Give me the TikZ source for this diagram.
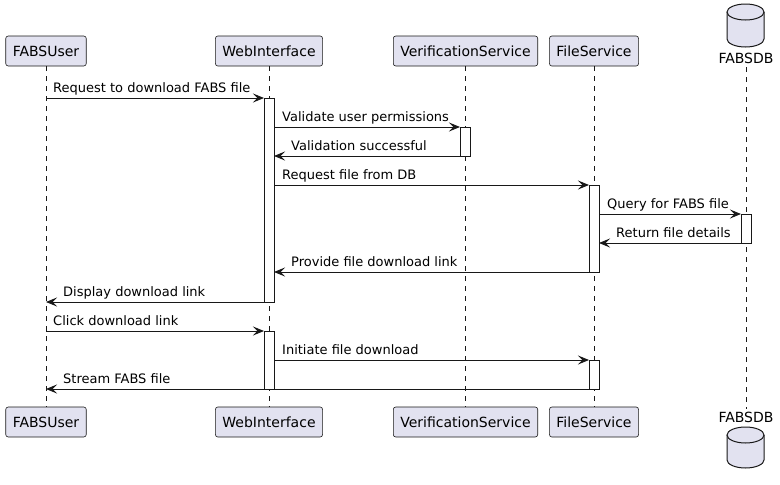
\documentclass[tikz,border=0pt]{standalone}
\usepackage{fontspec}
\setmainfont{DejaVu Sans}
\usetikzlibrary{arrows.meta}
\definecolor{pfill}{HTML}{E2E2F0}
\definecolor{pline}{HTML}{181818}
\begin{document}
\begin{tikzpicture}[x=1pt,y=-1pt,
  part/.style={draw=pline, fill=pfill, rounded corners=2.5pt, minimum height=30pt,
    inner xsep=7pt, inner ysep=0pt, line width=0.6pt, font=\fontsize{14}{16}\selectfont},
  dblabel/.style={anchor=base, inner sep=0pt, font=\fontsize{14}{16}\selectfont},
  life/.style={draw=pline, dash pattern=on 5pt off 5pt, line width=0.5pt},
  actbar/.style={draw=pline, fill=white, line width=1pt},
  msg/.style={draw=pline, line width=1pt, -{Stealth[length=11pt,width=9pt,inset=4.5pt]}},
  lbl/.style={anchor=base west, inner sep=0pt, font=\fontsize{13}{15}\selectfont},
  dbshape/.style={draw=pline, fill=pfill, line width=1pt},
]
\useasboundingbox (0,0) rectangle (780,485);

% participants top
\node[part] (u) at (46,51) {FABSUser};
\node[part] (w) at (269,51) {WebInterface};
\node[part] (v) at (465.5,51) {VerificationService};
\node[part] (f) at (594,51) {FileService};
\node[dblabel] (d) at (746,63) {FABSDB};
% participants bottom
\node[part] (u2) at (46,422) {FABSUser};
\node[part] (w2) at (269,422) {WebInterface};
\node[part] (v2) at (465.5,422) {VerificationService};
\node[part] (f2) at (594,422) {FileService};
\node[dblabel] (d2) at (746,422) {FABSDB};

% database cylinders
\fill[pfill] (727,12) -- (727,39) .. controls (727,43.4) and (735.3,47) .. (745.5,47)
  .. controls (755.7,47) and (764,43.4) .. (764,39) -- (764,12) -- cycle;
\draw[pline, line width=1pt] (727,12) -- (727,39) .. controls (727,43.4) and (735.3,47) .. (745.5,47)
  .. controls (755.7,47) and (764,43.4) .. (764,39) -- (764,12);
\draw[dbshape] (745.5,12) ellipse [x radius=18.5pt, y radius=8pt];

\fill[pfill] (727,435) -- (727,460) .. controls (727,464.4) and (735.3,468) .. (745.5,468)
  .. controls (755.7,468) and (764,464.4) .. (764,460) -- (764,435) -- cycle;
\draw[pline, line width=1pt] (727,435) -- (727,460) .. controls (727,464.4) and (735.3,468) .. (745.5,468)
  .. controls (755.7,468) and (764,464.4) .. (764,460) -- (764,435);
\draw[dbshape] (745.5,435) ellipse [x radius=18.5pt, y radius=8pt];

% lifelines
\coordinate (dtop) at (746,67);
\coordinate (dbot) at (746,409);
\draw[life] (u.south) -- (u2.north);
\draw[life] (w.south) -- (w2.north);
\draw[life] (v.south) -- (v2.north);
\draw[life] (f.south) -- (f2.north);
\draw[life] (dtop) -- (dbot);

% activation bars
\draw[actbar] (264,98) rectangle (274,302);
\draw[actbar] (460,127) rectangle (470,156);
\draw[actbar] (589,185) rectangle (599,272);
\draw[actbar] (741,214) rectangle (751,243);
\draw[actbar] (264,331) rectangle (274,389);
\draw[actbar] (589,360) rectangle (599,389);

% message endpoints
\coordinate (a1) at (46,98);   \coordinate (b1) at (264,98);
\coordinate (a2) at (274,127); \coordinate (b2) at (460,127);
\coordinate (a3) at (460,156); \coordinate (b3) at (274,156);
\coordinate (a4) at (274,185); \coordinate (b4) at (589,185);
\coordinate (a5) at (599,214); \coordinate (b5) at (741,214);
\coordinate (a6) at (741,243); \coordinate (b6) at (599,243);
\coordinate (a7) at (589,272); \coordinate (b7) at (274,272);
\coordinate (a8) at (264,302); \coordinate (b8) at (46,302);
\coordinate (a9) at (46,331);  \coordinate (b9) at (264,331);
\coordinate (a10) at (274,360); \coordinate (b10) at (589,360);
\coordinate (a11) at (589,389); \coordinate (b11) at (46,389);

\draw[msg] (a1) -- (b1);
\draw[msg] (a2) -- (b2);
\draw[msg] (a3) -- (b3);
\draw[msg] (a4) -- (b4);
\draw[msg] (a5) -- (b5);
\draw[msg] (a6) -- (b6);
\draw[msg] (a7) -- (b7);
\draw[msg] (a8) -- (b8);
\draw[msg] (a9) -- (b9);
\draw[msg] (a10) -- (b10);
\draw[msg] (a11) -- (b11);

% message labels
\node[lbl] (t1) at (53,92.5) {Request to download FABS file};
\node[lbl] (t2) at (282,121.5) {Validate user permissions};
\node[lbl] (t3) at (291,150.5) {Validation successful};
\node[lbl] (t4) at (282,179.5) {Request file from DB};
\node[lbl] (t5) at (607,208.5) {Query for FABS file};
\node[lbl] (t6) at (616,237.5) {Return file details};
\node[lbl] (t7) at (291,266.5) {Provide file download link};
\node[lbl] (t8) at (63,296.5) {Display download link};
\node[lbl] (t9) at (53,325.5) {Click download link};
\node[lbl] (t10) at (282,354.5) {Initiate file download};
\node[lbl] (t11) at (63,383.5) {Stream FABS file};
\end{tikzpicture}
\end{document}
